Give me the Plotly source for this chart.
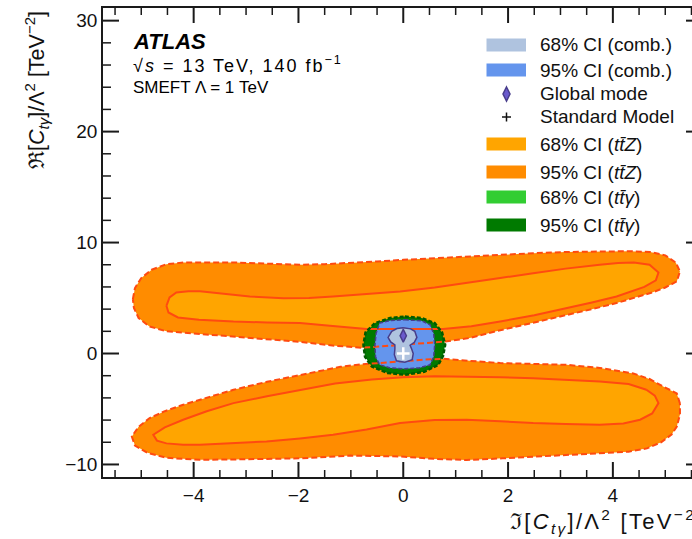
import plotly.graph_objects as go

# ---------------- data: contour outlines in (Im, Re) coefficient units ----------------
# ttZ 95% CI, upper lobe
ttz95_up_x = [-5.16, -5.12, -5.0, -4.8, -4.52, -4.2, -3.88, -3.2, -2.61, -1.97, -1.5, -1.02, -0.5, 0.0,
              0.6, 1.21, 1.8, 2.48, 3.1, 3.75, 4.3, 4.71, 5.0, 5.2, 5.28, 5.22, 5.0, 4.75, 4.45, 4.07,
              3.6, 3.12, 2.5, 1.85, 1.27, 0.8, 0.4, 0.0, -0.4, -0.8, -1.3, -1.97, -2.6, -3.24, -3.9,
              -4.52, -4.85, -5.05, -5.14]
ttz95_up_y = [4.9, 5.9, 6.8, 7.55, 8.05, 8.2, 8.2, 8.2, 8.1, 8.0, 8.05, 8.15, 8.3, 8.44,
              8.6, 8.74, 8.9, 9.04, 9.15, 9.2, 9.22, 9.15, 8.85, 8.2, 7.4, 6.5, 5.95, 5.5, 5.05, 4.55,
              4.0, 3.5, 2.8, 2.1, 1.4, 1.08, 0.92, 0.78, 0.65, 0.52, 0.7, 1.05, 1.3, 1.5, 1.75,
              2.0, 2.45, 3.2, 4.1]

# ttZ 68% CI, upper lobe
ttz68_up_x = [-4.52, -4.46, -4.33, -4.1, -3.88, -3.4, -2.93, -2.29, -1.8, -1.34, -0.7, -0.06, 0.6, 1.21,
              1.85, 2.48, 3.1, 3.75, 4.1, 4.4, 4.7, 4.87, 4.82, 4.6, 4.07, 3.6, 3.12, 2.5, 1.85, 1.3,
              0.76, 0.0, -0.7, -1.4, -1.97, -2.6, -3.24, -3.9, -4.3, -4.48]
ttz68_up_y = [4.3, 5.05, 5.5, 5.62, 5.6, 5.38, 5.14, 4.99, 5.0, 5.14, 5.35, 5.59, 5.95, 6.34,
              6.8, 7.24, 7.65, 7.99, 8.15, 8.2, 8.0, 7.3, 6.6, 6.0, 5.14, 4.6, 4.09, 3.45, 2.88, 2.45,
              2.2, 2.2, 2.2, 2.5, 2.74, 2.8, 2.88, 3.05, 3.25, 3.7]

# ttZ 95% CI, lower lobe
ttz95_lo_x = [5.28, 5.22, 4.96, 4.7, 4.39, 3.75, 3.12, 2.5, 1.85, 1.27, 0.76, 0.4, 0.0, -0.4, -0.8,
              -1.2, -1.97, -2.6, -3.24, -3.7, -4.2, -4.55, -4.84, -5.05, -5.18, -5.12, -4.88, -4.52,
              -3.88, -3.24, -2.6, -1.97, -1.0, -0.06, 0.6, 1.21, 1.9, 2.48, 3.12, 3.75, 4.3, 4.65,
              4.92, 5.12, 5.22, 5.28]
ttz95_lo_y = [-4.5, -3.6, -2.97, -2.3, -1.8, -1.3, -1.02, -0.95, -0.86, -0.66, -0.48, -0.55, -0.68,
              -0.82, -0.98, -1.2, -1.92, -2.55, -3.27, -3.9, -4.62, -5.2, -5.82, -6.6, -7.48, -8.3,
              -8.95, -9.4, -9.58, -9.55, -9.5, -9.45, -9.2, -9.28, -9.5, -9.6, -9.45, -9.3, -9.13,
              -9.0, -8.85, -8.55, -8.0, -7.3, -6.58, -5.5]

# ttZ 68% CI, lower lobe
ttz68_lo_x = [4.64, 4.3, 3.75, 3.1, 2.48, 1.85, 1.21, 0.6, 0.0, -0.6, -1.3, -1.97, -2.6, -3.24, -3.75,
              -4.2, -4.55, -4.77, -4.7, -4.52, -4.2, -3.88, -3.2, -2.61, -1.97, -1.34, -0.7, -0.06,
              0.6, 1.21, 1.85, 2.48, 3.1, 3.75, 4.2, 4.52, 4.75, 4.87, 4.8]
ttz68_lo_y = [-3.27, -2.75, -2.52, -2.35, -2.22, -2.15, -2.07, -2.05, -2.15, -2.35, -2.7, -3.27, -3.85,
              -4.47, -5.2, -5.97, -6.65, -7.32, -7.85, -8.1, -8.22, -8.22, -8.1, -7.93, -7.65, -7.32,
              -6.85, -6.27, -6.0, -5.97, -6.1, -6.27, -6.35, -6.42, -6.3, -5.97, -5.4, -4.47, -3.8]

# tt-gamma 95% CI
ttg95_x = [0.03, 0.35, 0.6, 0.74, 0.8, 0.76, 0.67, 0.4, 0.03, -0.3, -0.6, -0.73, -0.76, -0.72, -0.54, -0.25]
ttg95_y = [3.33, 3.2, 2.74, 1.9, 0.78, -0.2, -1.02, -1.65, -1.92, -1.75, -1.17, -0.3, 0.78, 1.9, 2.74, 3.2]

# combined 95% CI
comb95_x = [0.03, 0.35, 0.51, 0.58, 0.6, 0.58, 0.51, 0.3, 0.03, -0.25, -0.45, -0.53, -0.54, -0.52, -0.45, -0.25]
comb95_y = [3.04, 2.95, 2.59, 1.8, 0.78, -0.3, -1.02, -1.3, -1.38, -1.3, -1.02, -0.3, 0.78, 1.8, 2.74, 2.98]

# combined 68% CI
comb68_x = [0.0, 0.14, 0.22, 0.26, 0.21, 0.13, 0.16, 0.19, 0.17, 0.03, -0.13, -0.17, -0.16, -0.16,
            -0.24, -0.29, -0.22, -0.12]
comb68_y = [2.32, 2.22, 2.0, 1.45, 1.0, 0.75, 0.4, 0.0, -0.55, -0.78, -0.66, -0.1, 0.4, 0.78,
            1.05, 1.45, 2.0, 2.25]

# points
global_mode = (0.0, 1.6)
standard_model = (0.0, 0.0)

# legend entries
legend_labels = [
    "68% CI (comb.)",
    "95% CI (comb.)",
    "Global mode",
    "Standard Model",
    "68% CI (<i>tt̄Z</i>)",
    "95% CI (<i>tt̄Z</i>)",
    "68% CI (<i>tt̄γ</i>)",
    "95% CI (<i>tt̄γ</i>)",
]

# axis ticks
x_major = [-4, -2, 0, 2, 4]
x_minor = [-5.5, -5, -4.5, -3.5, -3, -2.5, -1.5, -1, -0.5, 0.5, 1, 1.5, 2.5, 3, 3.5, 4.5, 5, 5.5]
y_major = [-10, 0, 10, 20, 30]
y_minor = [-8, -6, -4, -2, 2, 4, 6, 8, 12, 14, 16, 18, 22, 24, 26, 28]

# ---------------- styling ----------------
C_COMB68 = "#AFC3DF"
C_COMB95 = "#6495ED"
C_COMB_LINE = "#483D8B"
C_TTZ68 = "#FFA500"
C_TTZ95 = "#FF8C00"
C_TTZ_LINE = "#FF4A10"
C_TTG68 = "#32CD32"
C_TTG95 = "#007A00"
C_TTG_LINE = "#005A00"
C_GM = "#6A5ACD"
AX_COLOR = "#1a1a1a"

FONT = "Liberation Sans, Arial, Helvetica, sans-serif"
W, H = 692, 539
ML, MT, MB = 103, 8, 62
PLOT_W = W - ML
PLOT_H = H - MT - MB
X_RANGE = [-5.73, 5.51]
Y_RANGE = [-11.13, 31.14]
X_PPU = PLOT_W / (X_RANGE[1] - X_RANGE[0])   # pixels per x unit
Y_PPU = PLOT_H / (Y_RANGE[1] - Y_RANGE[0])   # pixels per y unit
X_FRAME_RIGHT = X_RANGE[0] + (702 - ML) / X_PPU  # right frame edge lies just past the page


def px(xp):
    return (xp - ML) / PLOT_W


def py(yp):
    return (H - MB - yp) / PLOT_H


def closed(xs, ys):
    return xs + xs[:1], ys + ys[:1]


fig = go.Figure()


def fill(xs, ys, color):
    cx, cy = closed(xs, ys)
    fig.add_trace(go.Scatter(x=cx, y=cy, mode="lines", fill="toself", fillcolor=color,
                             line=dict(width=0), hoverinfo="skip", showlegend=False))


def outline(xs, ys, color, width, dash="solid"):
    cx, cy = closed(xs, ys)
    fig.add_trace(go.Scatter(x=cx, y=cy, mode="lines", line=dict(color=color, width=width, dash=dash),
                             hoverinfo="skip", showlegend=False))


DASH = "6px,3px"

# filled regions
fill(ttz95_up_x, ttz95_up_y, C_TTZ95)
fill(ttz95_lo_x, ttz95_lo_y, C_TTZ95)
fill(ttz68_up_x, ttz68_up_y, C_TTZ68)
fill(ttz68_lo_x, ttz68_lo_y, C_TTZ68)
fill(ttg95_x, ttg95_y, C_TTG95)
fill(comb95_x, comb95_y, C_COMB95)

# contour lines on top
outline(ttz95_up_x, ttz95_up_y, C_TTZ_LINE, 2, DASH)
outline(ttz95_lo_x, ttz95_lo_y, C_TTZ_LINE, 2, DASH)
outline(ttz68_up_x, ttz68_up_y, C_TTZ_LINE, 2)
outline(ttz68_lo_x, ttz68_lo_y, C_TTZ_LINE, 2)
outline(ttg95_x, ttg95_y, C_TTG_LINE, 2.5, "4px,2px")
outline(comb95_x, comb95_y, C_COMB_LINE, 1.5, "4px,2px")

# combined 68% region
cx, cy = closed(comb68_x, comb68_y)
fig.add_trace(go.Scatter(x=cx, y=cy, mode="lines", fill="toself", fillcolor=C_COMB68,
                         line=dict(color=C_COMB_LINE, width=1.5), hoverinfo="skip", showlegend=False))

# global mode and SM point
fig.add_trace(go.Scatter(x=[global_mode[0]], y=[global_mode[1]], mode="markers",
                         marker=dict(symbol="diamond-tall", size=9, color=C_GM,
                                     line=dict(color=C_COMB_LINE, width=1.5)),
                         hoverinfo="skip", showlegend=False))
fig.add_trace(go.Scatter(x=[standard_model[0]], y=[standard_model[1]], mode="markers",
                         marker=dict(symbol="cross-thin", size=9, line=dict(color="white", width=2.5)),
                         hoverinfo="skip", showlegend=False))


# ---------------- inward ticks on all four sides ----------------
def tick_segments(xvals, yvals, xlen_px, ylen_px):
    tx, ty = [], []
    xl, yl = xlen_px / Y_PPU, ylen_px / X_PPU
    for v in xvals:
        tx += [v, v, None, v, v, None]
        ty += [Y_RANGE[0], Y_RANGE[0] + xl, None, Y_RANGE[1], Y_RANGE[1] - xl, None]
    for v in yvals:
        tx += [X_RANGE[0], X_RANGE[0] + yl, None, X_FRAME_RIGHT, X_FRAME_RIGHT - yl, None]
        ty += [v, v, None, v, v, None]
    return tx, ty


for xs_, ys_, lx, ly, wd in [(x_major, y_major, 15, 16, 2.0), (x_minor, y_minor, 7, 8, 1.5)]:
    tx, ty = tick_segments(xs_, ys_, lx, ly)
    fig.add_trace(go.Scatter(x=tx, y=ty, mode="lines", line=dict(color=AX_COLOR, width=wd),
                             hoverinfo="skip", showlegend=False, connectgaps=False))

shapes = []
annotations = []

# ---------------- legend (hand-drawn in paper units) ----------------
legend_rows = [45, 70, 94, 117, 144, 172, 197, 225]
swatch_colors = [C_COMB68, C_COMB95, None, None, C_TTZ68, C_TTZ95, C_TTG68, C_TTG95]
for lab, row, col in zip(legend_labels, legend_rows, swatch_colors):
    if col is not None:
        shapes.append(dict(type="rect", xref="paper", yref="paper",
                           x0=px(486.5), x1=px(526), y0=py(row + 6.5), y1=py(row - 6.5),
                           fillcolor=col, line=dict(width=0), layer="above"))
    annotations.append(dict(text=lab, xref="paper", yref="paper", x=px(538), y=py(row),
                            xanchor="left", yanchor="middle", showarrow=False,
                            font=dict(family=FONT, size=19, color="#111")))

# legend symbol: global mode (tall diamond)
gx, gy = 506.5, legend_rows[2]
shapes.append(dict(type="path", xref="paper", yref="paper",
                   path=(f"M {px(gx)},{py(gy - 7)} L {px(gx + 3.5)},{py(gy)} "
                         f"L {px(gx)},{py(gy + 7)} L {px(gx - 3.5)},{py(gy)} Z"),
                   fillcolor=C_GM, line=dict(color=C_COMB_LINE, width=1.5), layer="above"))
# legend symbol: Standard Model (plus)
sx, sy = 506.5, legend_rows[3]
shapes.append(dict(type="line", xref="paper", yref="paper", x0=px(sx - 4.5), x1=px(sx + 4.5),
                   y0=py(sy), y1=py(sy), line=dict(color="#111", width=1.5), layer="above"))
shapes.append(dict(type="line", xref="paper", yref="paper", x0=px(sx), x1=px(sx),
                   y0=py(sy - 4.5), y1=py(sy + 4.5), line=dict(color="#111", width=1.5), layer="above"))

# ATLAS label block
annotations += [
    dict(text="<b><i>ATLAS</i></b>", xref="paper", yref="paper", x=px(131), y=py(41),
         xanchor="left", yanchor="middle", showarrow=False, font=dict(family=FONT, size=22, color="#000")),
    dict(text="<span style='letter-spacing:2px'>√<i>s</i> = 13 TeV, 140 fb<sup>−1</sup></span>",
         xref="paper", yref="paper", x=px(131), y=py(65),
         xanchor="left", yanchor="middle", showarrow=False, font=dict(family=FONT, size=18, color="#000")),
    dict(text="SMEFT Λ = 1 TeV", xref="paper", yref="paper", x=px(131), y=py(88),
         xanchor="left", yanchor="middle", showarrow=False, font=dict(family=FONT, size=17, color="#000")),
]

# axis titles
annotations += [
    dict(text=("<span style='letter-spacing:2.3px'>ℑ[<i>C</i><sub><i>tγ</i></sub>]/Λ<sup>2</sup> "
               "[TeV<sup>−2</sup>]</span>"), xref="paper", yref="paper",
         x=px(706), y=py(521), xanchor="right", yanchor="middle", showarrow=False,
         font=dict(family=FONT, size=22, color="#111")),
    dict(text="ℜ[<i>C</i><sub><i>tγ</i></sub>]/Λ<sup>2</sup> [TeV<sup>−2</sup>]", xref="paper", yref="paper",
         x=px(36), y=py(9), xanchor="center", yanchor="top", textangle=-90, showarrow=False,
         font=dict(family=FONT, size=21.5, color="#111")),
]

fig.update_layout(
    width=W, height=H,
    margin=dict(l=ML, r=0, t=MT, b=MB),
    paper_bgcolor="white", plot_bgcolor="white",
    showlegend=False,
    shapes=shapes,
    annotations=annotations,
    xaxis=dict(range=X_RANGE, showgrid=False, zeroline=False, showline=True, linecolor=AX_COLOR,
               linewidth=1.5, mirror=True, ticks="", tickvals=x_major,
               ticktext=[f"{v:d}".replace("-", "−") for v in x_major],
               tickfont=dict(family=FONT, size=19, color="#111")),
    yaxis=dict(range=Y_RANGE, showgrid=False, zeroline=False, showline=True, linecolor=AX_COLOR,
               linewidth=1.5, mirror=False, ticks="", tickvals=y_major,
               ticktext=[f"{v:d}".replace("-", "−") for v in y_major],
               tickfont=dict(family=FONT, size=19, color="#111")),
)

fig.write_html("out.html")
